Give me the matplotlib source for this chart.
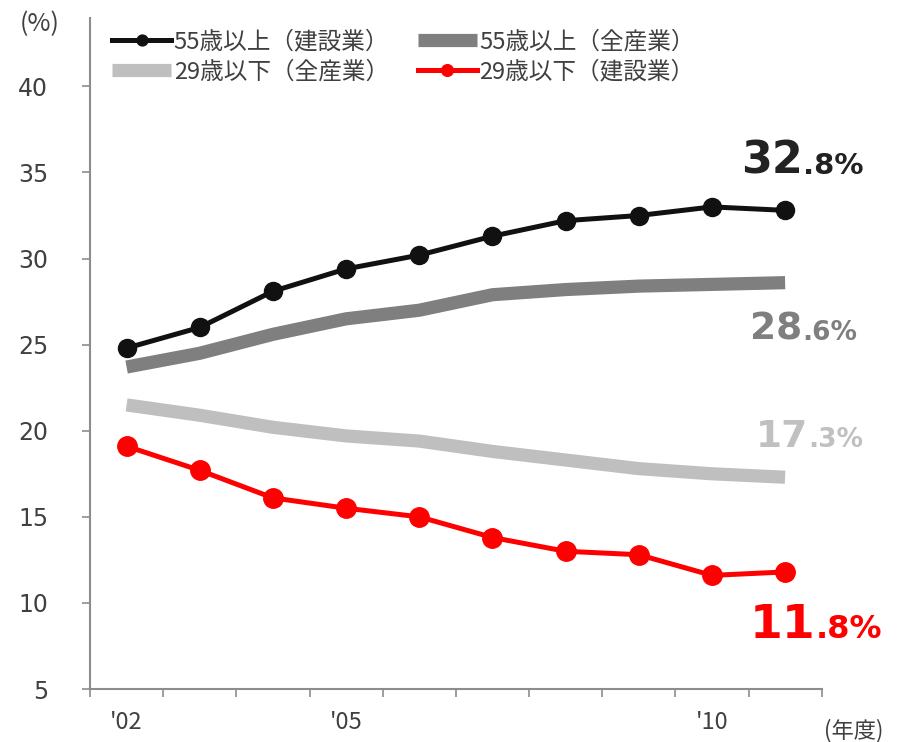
import matplotlib
matplotlib.use("Agg")
import matplotlib.pyplot as plt
import numpy as np

plt.rcParams['font.family'] = ['Noto Sans CJK JP', 'DejaVu Sans']

# 年度と各系列の割合 (%)
years = ["'02", "'03", "'04", "'05", "'06", "'07", "'08", "'09", "'10", "'11"]
over55_const = [24.8, 26.0, 28.1, 29.4, 30.2, 31.3, 32.2, 32.5, 33.0, 32.8]
over55_all = [23.7, 24.5, 25.6, 26.5, 27.0, 27.9, 28.2, 28.4, 28.5, 28.6]
under29_all = [21.5, 20.9, 20.2, 19.7, 19.4, 18.8, 18.3, 17.8, 17.5, 17.3]
under29_const = [19.1, 17.7, 16.1, 15.5, 15.0, 13.8, 13.0, 12.8, 11.6, 11.8]
shown_years = ["'02", "'05", "'10"]

TXT = '#404040'
AXC = '#8c8c8c'

fig = plt.figure(figsize=(9, 7.42), dpi=100)
ax = fig.add_axes([0.1, 0.0714, 0.813, 0.905])

x = np.arange(len(years))
l1, = ax.plot(x, over55_const, color='#111111', lw=3.6, marker='o', ms=13,
              label='55歳以上（建設業）', zorder=4)
l2, = ax.plot(x, over55_all, color='#7f7f7f', lw=9.5, solid_capstyle='butt',
              label='55歳以上（全産業）', zorder=3)
l3, = ax.plot(x, under29_all, color='#bfbfbf', lw=9.5, solid_capstyle='butt',
              label='29歳以下（全産業）', zorder=2)
l4, = ax.plot(x, under29_const, color='#ff0000', lw=3.6, marker='o', ms=14,
              label='29歳以下（建設業）', zorder=4)

# 最終年度の値ラベル（整数部を大きく）
def end_label(vals, color, dx, dy, big, small):
    v = vals[-1]
    whole, frac = f"{v:.1f}".split('.')
    ax.annotate(whole, (x[-1], v), xytext=(dx, dy), textcoords='offset points',
                ha='right', va='baseline', color=color, fontsize=big,
                fontweight='bold', family='DejaVu Sans', annotation_clip=False)
    ax.annotate('.' + frac + '%', (x[-1], v), xytext=(dx, dy), textcoords='offset points',
                ha='left', va='baseline', color=color, fontsize=small,
                fontweight='bold', family='DejaVu Sans', annotation_clip=False)

end_label(over55_const, '#222222', 13, 26.5, 32, 21)
end_label(over55_all, '#7f7f7f', 12, -41, 27, 19)
end_label(under29_all, '#c0c0c0', 16.5, 21.5, 27, 19)
end_label(under29_const, '#ff0000', 22, -47.5, 34, 23)

ax.set_xlim(-0.5, len(years) - 0.5)
ax.set_ylim(5, 44)
ax.set_yticks(np.arange(5, 41, 5))
ax.tick_params(axis='y', direction='out', length=6, width=1.2, color=AXC,
               labelsize=17, labelcolor=TXT, pad=24)
for t in ax.get_yticklabels():
    t.set_family('DejaVu Sans')

ax.set_xticks([years.index(y) for y in shown_years])
ax.set_xticklabels(shown_years)
ax.set_xticks(np.arange(-0.5, len(years), 1), minor=True)
ax.tick_params(axis='x', which='major', length=0, labelsize=17,
               labelcolor=TXT, pad=16)
ax.tick_params(axis='x', which='minor', direction='out', length=6, width=1.2,
               color=AXC)

for s in ['top', 'right']:
    ax.spines[s].set_visible(False)
for s in ['left', 'bottom']:
    ax.spines[s].set_color(AXC)
    ax.spines[s].set_linewidth(1.5)

fig.text(0.022, 0.968, '(%)', fontsize=18, color=TXT, va='center')
fig.text(0.915, 0.016, '(年度)', fontsize=16, color=TXT, va='center')

leg = ax.legend(handles=[l1, l3, l2, l4], ncol=2, loc='upper left',
                bbox_to_anchor=(0.008, 1.005), frameon=False, fontsize=17,
                handlelength=2.5, handletextpad=0.1, columnspacing=1.2,
                labelspacing=0.28, borderpad=0.2, markerscale=0.6)
for t in leg.get_texts():
    t.set_color(TXT)

fig.savefig('out.png', dpi=100)
